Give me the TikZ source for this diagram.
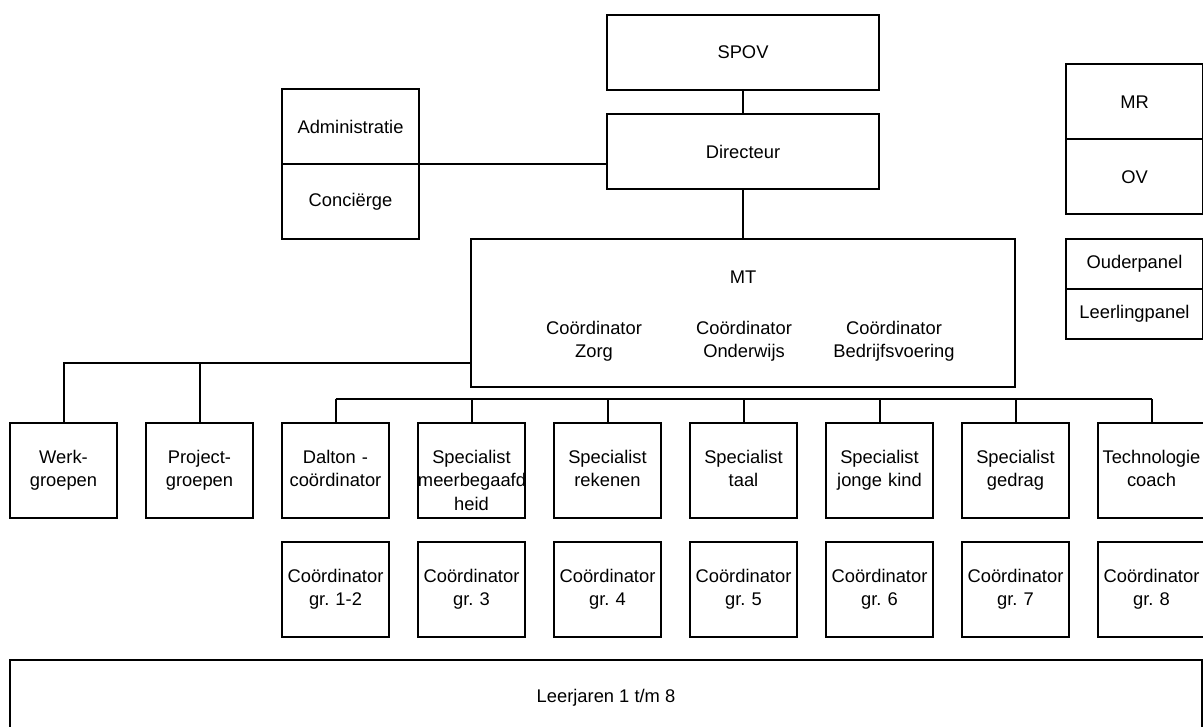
\documentclass[tikz,border=0pt]{standalone}
\usepackage{fontspec}
\setmainfont{Liberation Sans}
\usetikzlibrary{matrix}

\begin{document}
\begin{tikzpicture}[x=0.75pt,y=-0.75pt,line width=1.5pt,
    font=\fontsize{13.75}{17.5}\selectfont\frenchspacing,
    unit/.style={draw,align=center,inner sep=0pt,outer sep=0pt},
    cell/.style={unit,anchor=center,text width=80.25pt,minimum height=71.25pt,
        execute at begin node=\strut,execute at end node=\strut}]
    \useasboundingbox (0,0) rectangle (1203,727);
    \node[unit,minimum width=204pt,minimum height=56.25pt] (spov) at (743,52.5) {SPOV};
    \node[unit,minimum width=204pt,minimum height=56.25pt] (dir) at (743,152) {Directeur};
    \node[unit,minimum width=408pt,minimum height=111pt] (mt) at (743,313) {};
    \node (mtname) at (743,277) {MT};
    \node[align=center] (zorg) at (594,341) {Coördinator\\Zorg};
    \node[align=center] (onderwijs) at (744,341) {Coördinator\\Onderwijs};
    \node[align=center] (bedrijf) at (894,341) {Coördinator\\Bedrijfsvoering};
    \node[unit,minimum width=102.75pt,minimum height=56.25pt] (adm) at (350.5,126.5) {Administratie};
    \node[unit,minimum width=102.75pt,minimum height=56.25pt] (con) at (350.5,201.5) {Conciërge};
    \node[unit,minimum width=102.75pt,minimum height=56.25pt] (mr) at (1134.5,102) {MR};
    \node[unit,minimum width=102.75pt,minimum height=56.25pt] (ov) at (1134.5,177) {OV};
    \node[unit,minimum width=102.75pt,minimum height=37.5pt] (ouder) at (1134.5,264) {Ouderpanel};
    \node[unit,minimum width=102.75pt,minimum height=37.5pt] (leerling) at (1134.5,314) {Leerlingpanel};
    \node[unit,minimum width=894pt,minimum height=56.25pt] (jaren) at (606,697.5) {Leerjaren 1 t/m 8};

    \matrix (m) [matrix of nodes,nodes={cell},column sep=20.25pt,row sep=16.5pt,
        anchor=north west,inner sep=0pt] at (8,421)
    {
        {Werk-\\groepen} & {Project-\\groepen} & {Dalton -\\coördinator} & {\strut\\Specialist\\meerbegaafd\\heid} & {Specialist\\rekenen} & {Specialist\\taal} & {Specialist\\jonge kind} & {Specialist\\gedrag} & {Technologie\\coach} \\
        & & {Coördinator\\gr. 1-2} & {Coördinator\\gr. 3} & {Coördinator\\gr. 4} & {Coördinator\\gr. 5} & {Coördinator\\gr. 6} & {Coördinator\\gr. 7} & {Coördinator\\gr. 8} \\
    };

    \draw (spov) -- (dir);
    \draw (dir) -- (mt);
    \draw (adm.south east) -- (adm.south east -| dir.west);
    \coordinate (grp) at ([yshift=18pt]mt.south west);
    \draw (grp) -| (m-1-1);
    \draw (m-1-2) -- (m-1-2 |- grp);
    \coordinate (bar) at (335,399);
    \draw (m-1-3 |- bar) -- (m-1-9 |- bar);
    \foreach \c in {3,...,9}
        \draw (m-1-\c) -- (m-1-\c |- bar);
\end{tikzpicture}
\end{document}
